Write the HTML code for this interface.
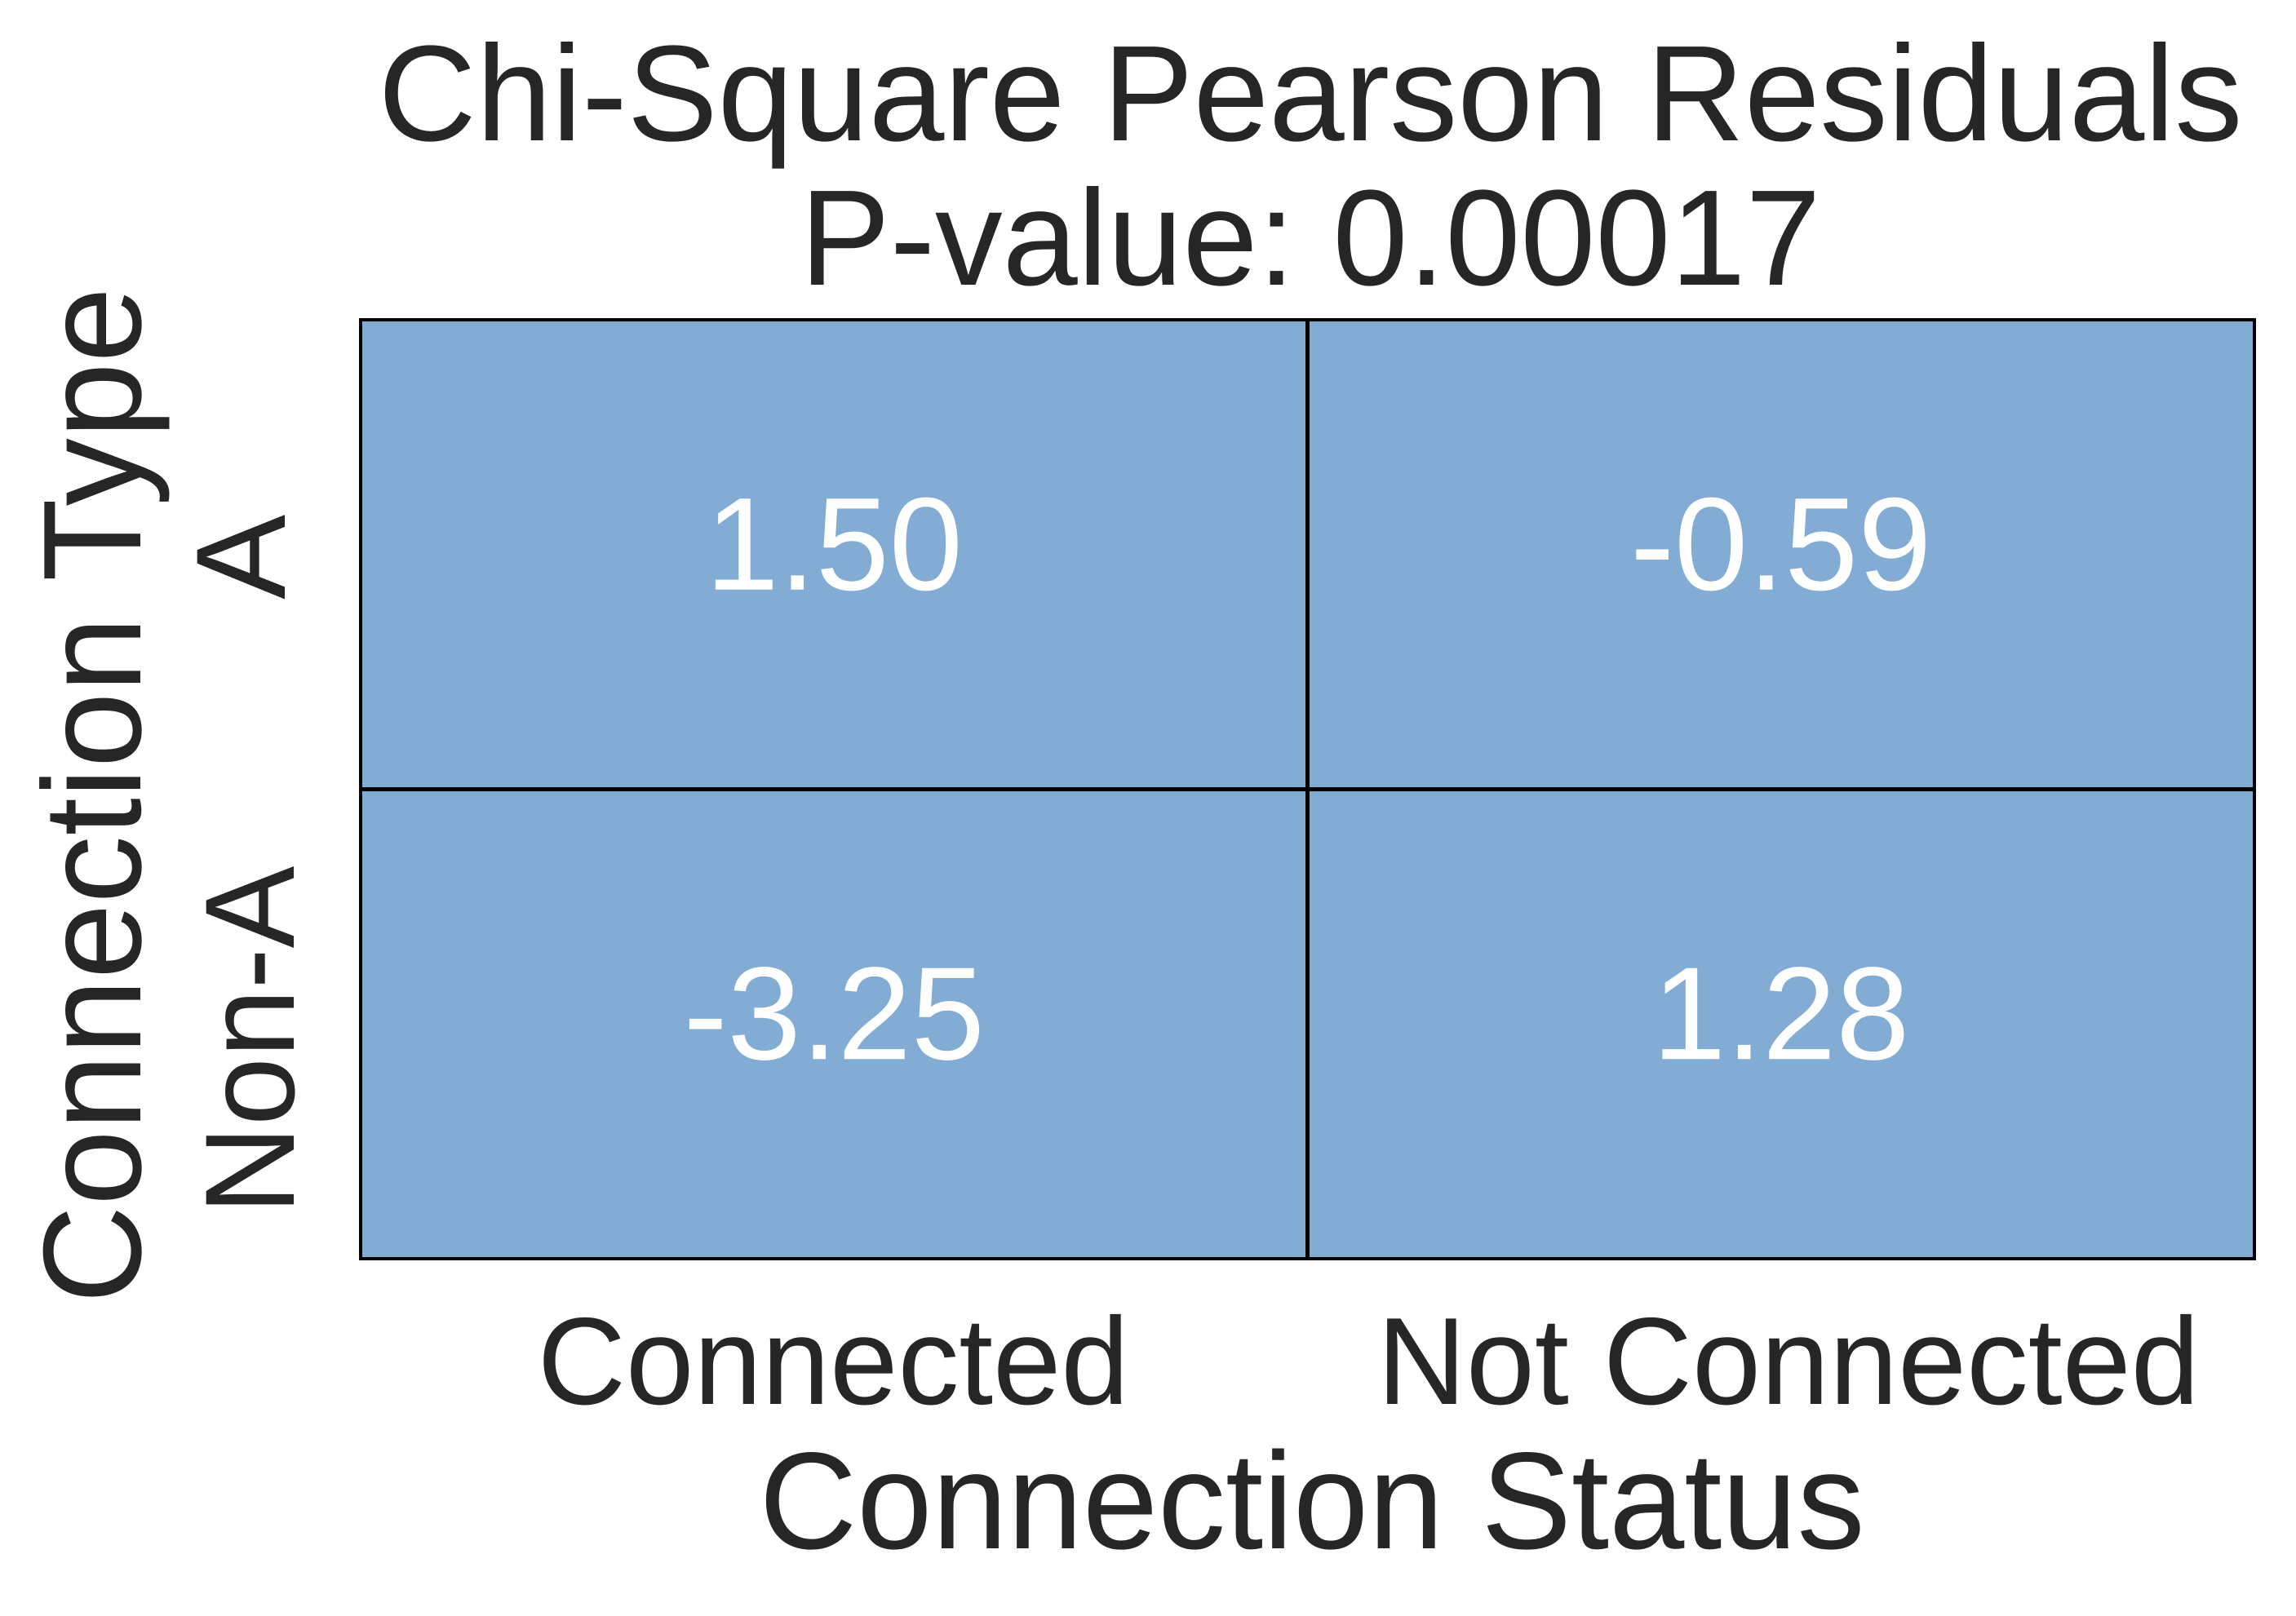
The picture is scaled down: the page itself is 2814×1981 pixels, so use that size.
<!DOCTYPE html>
<html><head><meta charset="utf-8"><style>
html,body{margin:0;padding:0;background:#fff}
svg{display:block}
text{font-family:"Liberation Sans",Arial,sans-serif}
</style></head><body>
<svg id="chart" width="2814" height="1981" viewBox="0 0 2814 1981" xmlns="http://www.w3.org/2000/svg">
<g>
<text x="1606" y="172" text-anchor="middle" font-size="167" fill="#262626" textLength="2285" lengthAdjust="spacingAndGlyphs">Chi-Square Pearson Residuals</text>
<text x="1606" y="349" text-anchor="middle" font-size="167" fill="#262626" textLength="1251" lengthAdjust="spacingAndGlyphs">P-value: 0.00017</text>
</g>
<g id="cells"></g>
<rect x="442" y="392" width="2321" height="1151" fill="none" stroke="#000" stroke-width="4"/>
<text x="1608" y="1898" text-anchor="middle" font-size="169" fill="#262626" textLength="1355" lengthAdjust="spacingAndGlyphs">Connection Status</text>
<text transform="translate(172,975) rotate(-90)" x="0" y="0" text-anchor="middle" font-size="171" fill="#262626" textLength="1246" lengthAdjust="spacingAndGlyphs">Connection Type</text>
</svg>
<script>
const colLabels = ["Connected", "Not Connected"];
const rowLabels = ["A", "Non-A"];
const residuals = [[1.50, -0.59], [-3.25, 1.28]];
const colLabelWidths = [725, 1008];
const rowLabelWidths = [104, 427];

const svgNS = "http://www.w3.org/2000/svg";
const svg = document.getElementById("chart");
const g = document.getElementById("cells");
const X0 = 442, Y0 = 392, W = 2321, H = 1151;
const cw = W / colLabels.length, ch = H / rowLabels.length;
function xPos(i){ return X0 + i * cw; }
function yPos(j){ return Y0 + j * ch; }

for (let r = 0; r < rowLabels.length; r++) {
  for (let c = 0; c < colLabels.length; c++) {
    const rect = document.createElementNS(svgNS, "rect");
    
    
    rect.setAttribute("x", xPos(c)); rect.setAttribute("y", yPos(r));
    rect.setAttribute("width", cw); rect.setAttribute("height", ch);
    rect.setAttribute("fill", "#83acd5");
    rect.setAttribute("stroke", "#000"); rect.setAttribute("stroke-width", "4");
    g.appendChild(rect);
    const t = document.createElementNS(svgNS, "text");
    
    
    t.setAttribute("x", xPos(c) + cw / 2);
    t.setAttribute("y", yPos(r) + ch / 2 + 43);
    t.setAttribute("text-anchor", "middle");
    t.setAttribute("font-size", "162");
    t.setAttribute("fill", "#ffffff");
    t.textContent = residuals[r][c].toFixed(2);
    g.appendChild(t);
  }
}
for (let c = 1; c < colLabels.length; c++) {
  const l = document.createElementNS(svgNS, "line");
  
  
  l.setAttribute("x1", xPos(c)); l.setAttribute("x2", xPos(c));
  l.setAttribute("y1", Y0); l.setAttribute("y2", Y0 + H);
  l.setAttribute("stroke", "#000"); l.setAttribute("stroke-width", "5");
  g.appendChild(l);
}
for (let r = 1; r < rowLabels.length; r++) {
  const l = document.createElementNS(svgNS, "line");
  
  
  l.setAttribute("x1", X0); l.setAttribute("x2", X0 + W);
  l.setAttribute("y1", yPos(r)); l.setAttribute("y2", yPos(r));
  l.setAttribute("stroke", "#000"); l.setAttribute("stroke-width", "5");
  g.appendChild(l);
}
for (let c = 0; c < colLabels.length; c++) {
  const t = document.createElementNS(svgNS, "text");
  
  
  t.setAttribute("x", xPos(c) + cw / 2 + (c === 0 ? -1 : 9));
  t.setAttribute("y", 1721);
  t.setAttribute("text-anchor", "middle");
  t.setAttribute("font-size", "152");
  t.setAttribute("fill", "#262626");
  t.setAttribute("textLength", colLabelWidths[c]);
  t.setAttribute("lengthAdjust", "spacingAndGlyphs");
  t.textContent = colLabels[c];
  svg.appendChild(t);
}
for (let r = 0; r < rowLabels.length; r++) {
  const t = document.createElementNS(svgNS, "text");
  
  
  const bx = r === 0 ? 349 : 360;
  const cy = yPos(r) + ch / 2 + (r === 0 ? 3 : 20);
  t.setAttribute("transform", "translate(" + bx + "," + cy + ") rotate(-90)");
  t.setAttribute("x", 0); t.setAttribute("y", 0);
  t.setAttribute("text-anchor", "middle");
  t.setAttribute("font-size", "156");
  t.setAttribute("fill", "#262626");
  t.setAttribute("textLength", rowLabelWidths[r]);
  t.setAttribute("lengthAdjust", "spacingAndGlyphs");
  t.textContent = rowLabels[r];
  svg.appendChild(t);
}
</script>
</body></html>
